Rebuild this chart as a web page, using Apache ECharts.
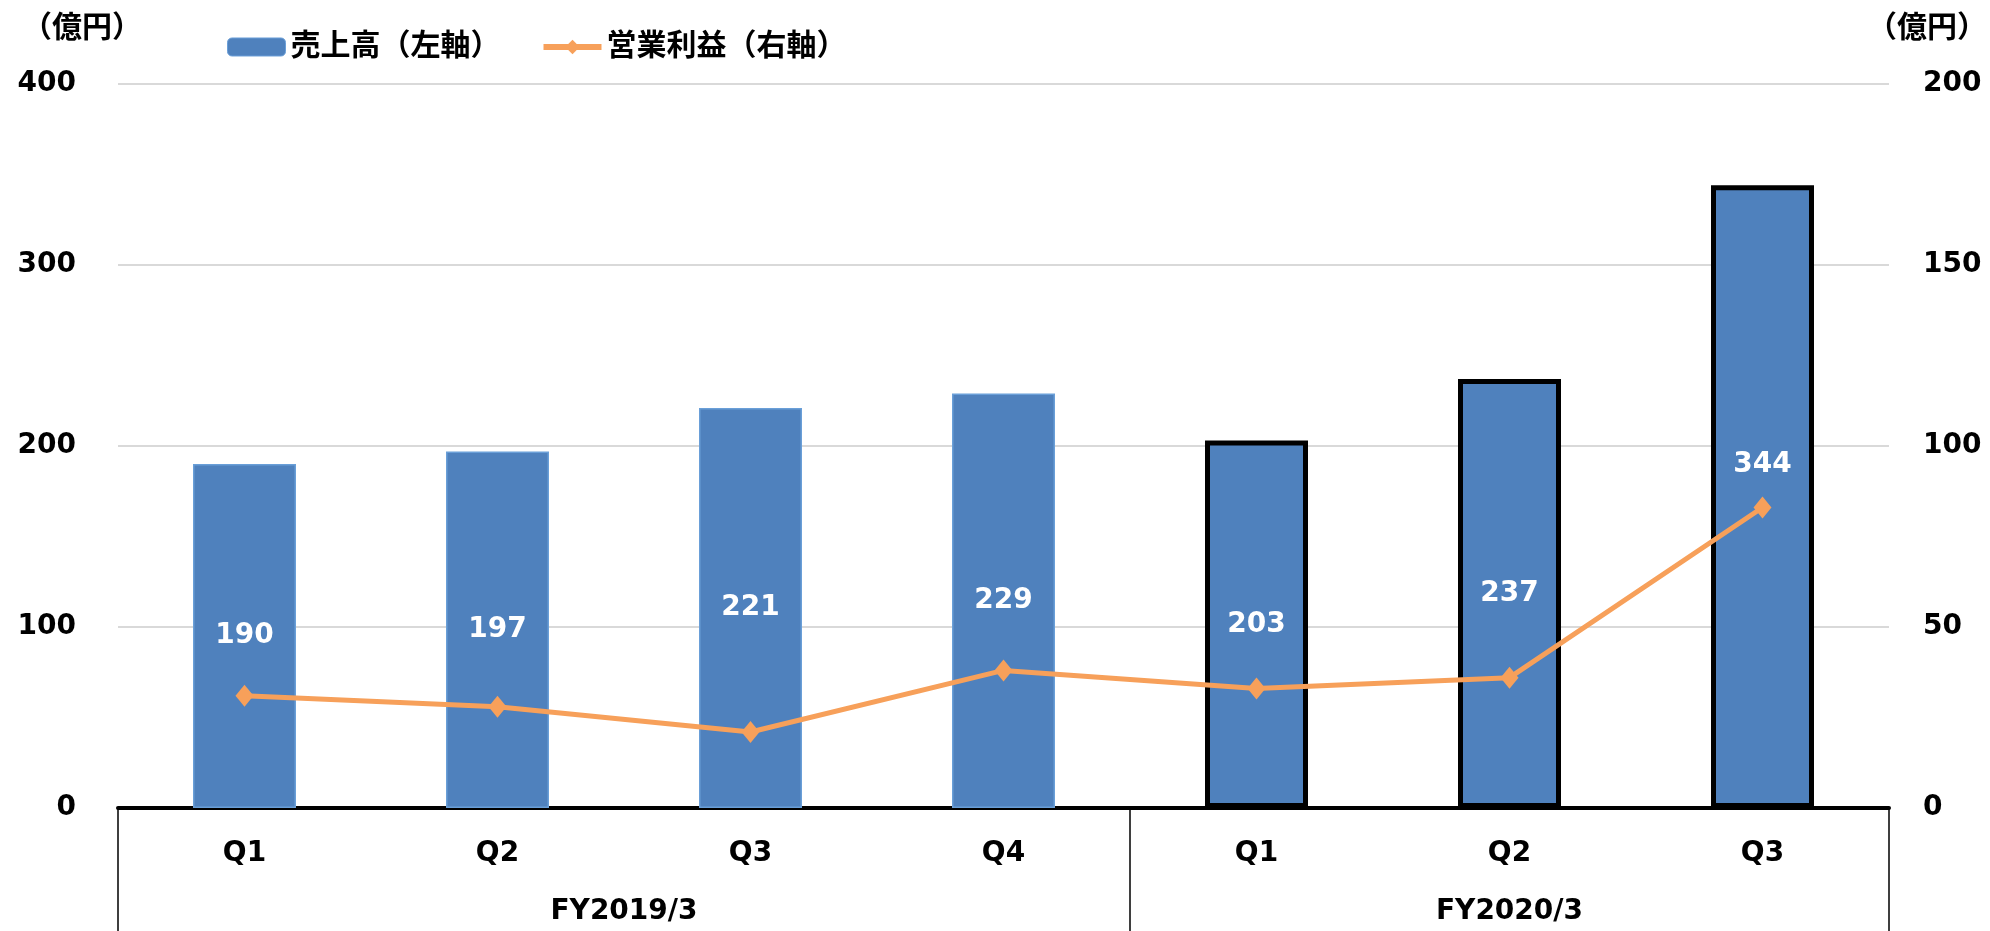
<!DOCTYPE html>
<html>
<head>
<meta charset="utf-8">
<script src="https://cdn.jsdelivr.net/npm/echarts@6/dist/echarts.min.js"></script>
<style>
html,body{margin:0;padding:0;background:#fff;}
#chart{width:1990px;height:931px;}
</style>
</head>
<body>
<div id="chart"></div>
<script>
// ---- data ----
const fiscalYears = ['FY2019/3', 'FY2020/3'];
const quarters = ['Q1', 'Q2', 'Q3', 'Q4', 'Q1', 'Q2', 'Q3'];
const quarterYear = [0, 0, 0, 0, 1, 1, 1];
const sales = [190, 197, 221, 229, 203, 237, 344];          // 売上高（左軸）
const operatingProfit = [31, 28, 21, 38, 33, 36, 83];       // 営業利益（右軸）
const leftAxisTicks = [0, 100, 200, 300, 400];
const rightAxisTicks = [0, 50, 100, 150, 200];
const seriesNames = ['売上高（左軸）', '営業利益（右軸）'];
const unitLabel = '（億円）';

// ---- derived ----
const FONT = "'DejaVu Sans', 'Noto Sans CJK JP', sans-serif";
const BAR_COLOR = '#4f81bd';
const LINE_COLOR = '#f7a05a';
const groupStarts = [];
const groupCenters = [];
fiscalYears.forEach((fy, g) => {
  const idx = quarterYear.map((y, i) => y === g ? i : -1).filter(i => i >= 0);
  groupStarts.push(idx[0]);
  groupCenters.push((idx[0] + idx[idx.length - 1] + 1) / 2);
});
const latestYear = fiscalYears.length - 1;

const barData = sales.map((v, i) => {
  const item = { value: v };
  if (quarterYear[i] === latestYear) {
    item.itemStyle = { borderColor: '#000', borderWidth: 5 };
  }
  if (i === sales.length - 1) {
    item.label = { offset: [0, -32] };
  }
  return item;
});

const chart = echarts.init(document.getElementById('chart'), null, { renderer: 'canvas' });
chart.setOption({
  animation: false,
  backgroundColor: '#fff',
  textStyle: { fontFamily: FONT },
  legend: {
    left: 222,
    top: 27,
    itemWidth: 58,
    itemHeight: 18,
    itemGap: 40,
    textStyle: { fontFamily: FONT, fontSize: 30, fontWeight: 'bold', color: '#000' },
    data: [
      { name: seriesNames[0], itemStyle: { color: BAR_COLOR, borderColor: '#6a9fd8', borderWidth: 1 } },
      { name: seriesNames[1], itemStyle: { color: LINE_COLOR }, lineStyle: { color: LINE_COLOR, width: 6 } }
    ]
  },
  grid: { left: 118, right: 99, top: 84, bottom: 123, containLabel: false },
  xAxis: [
    {
      type: 'category',
      data: quarters,
      position: 'bottom',
      axisLine: { show: true, lineStyle: { color: '#000', width: 4 } },
      axisTick: {
        show: true,
        length: 130,
        interval: function (index) { return groupStarts.indexOf(index) >= 0; },
        lineStyle: { color: '#000', width: 1.5 }
      },
      axisLabel: {
        interval: 0, margin: 32,
        fontFamily: FONT, fontSize: 28, fontWeight: 'bold', color: '#000'
      }
    },
    {
      type: 'value',
      min: 0,
      max: quarters.length,
      interval: 0.5,
      position: 'bottom',
      offset: 82,
      axisLine: { show: false },
      axisTick: { show: false },
      splitLine: { show: false },
      axisLabel: {
        margin: 8,
        showMinLabel: true, showMaxLabel: true,
        fontFamily: FONT, fontSize: 28, fontWeight: 'bold', color: '#000',
        formatter: function (v) {
          const g = groupCenters.findIndex(c => Math.abs(c - v) < 1e-6);
          return g >= 0 ? fiscalYears[g] : '';
        }
      }
    }
  ],
  yAxis: [
    {
      type: 'value',
      min: leftAxisTicks[0],
      max: leftAxisTicks[leftAxisTicks.length - 1],
      interval: leftAxisTicks[1] - leftAxisTicks[0],
      name: unitLabel,
      nameLocation: 'end',
      nameGap: 40,
      nameTextStyle: {
        fontFamily: FONT, fontSize: 30, fontWeight: 'bold', color: '#000',
        align: 'center', padding: [0, 72, 0, 0]
      },
      axisLine: { show: false },
      axisTick: { show: false },
      axisLabel: { margin: 42, fontFamily: FONT, fontSize: 28, fontWeight: 'bold', color: '#000' },
      splitLine: { show: true, lineStyle: { color: '#d9d9d9', width: 2 } }
    },
    {
      type: 'value',
      min: rightAxisTicks[0],
      max: rightAxisTicks[rightAxisTicks.length - 1],
      interval: rightAxisTicks[1] - rightAxisTicks[0],
      name: unitLabel,
      nameLocation: 'end',
      nameGap: 40,
      nameTextStyle: {
        fontFamily: FONT, fontSize: 30, fontWeight: 'bold', color: '#000',
        align: 'center', padding: [0, 0, 0, 76]
      },
      axisLine: { show: false },
      axisTick: { show: false },
      axisLabel: { margin: 34, fontFamily: FONT, fontSize: 28, fontWeight: 'bold', color: '#000' },
      splitLine: { show: false }
    }
  ],
  series: [
    {
      name: seriesNames[0],
      type: 'bar',
      xAxisIndex: 0,
      yAxisIndex: 0,
      barWidth: 103,
      data: barData,
      itemStyle: { color: BAR_COLOR, borderColor: '#6a9fd8', borderWidth: 1.5 },
      label: {
        show: true, position: 'inside',
        fontFamily: FONT, fontSize: 28, fontWeight: 'bold', color: '#fff'
      },
      z: 2
    },
    {
      name: seriesNames[1],
      type: 'line',
      xAxisIndex: 0,
      yAxisIndex: 1,
      data: operatingProfit,
      symbol: 'diamond',
      symbolSize: [18, 22],
      lineStyle: { color: LINE_COLOR, width: 5 },
      itemStyle: { color: LINE_COLOR },
      label: { show: false },
      z: 3
    }
  ]
});
</script>
</body>
</html>
